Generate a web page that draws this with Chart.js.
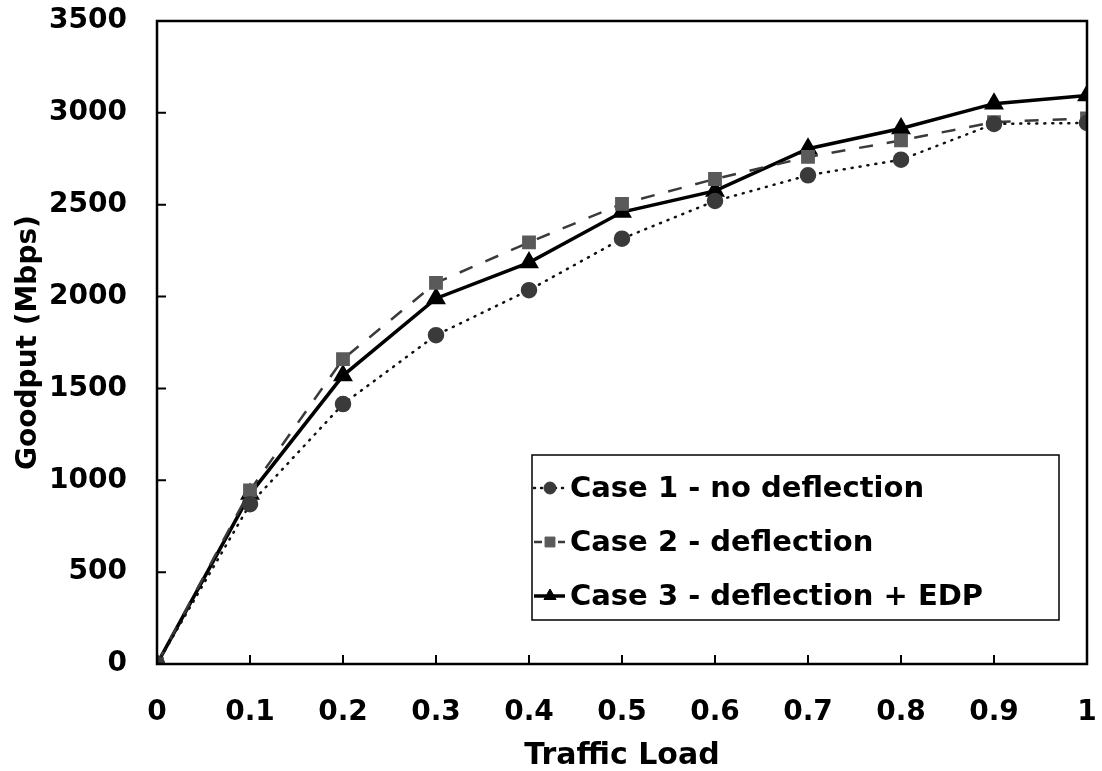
<!DOCTYPE html>
<html>
<head>
<meta charset="utf-8">
<script src="https://cdn.jsdelivr.net/npm/chart.js@4/dist/chart.umd.min.js"></script>
<style>
  html, body { margin: 0; padding: 0; background: #fff; }
  #wrap { width: 1102px; height: 771px; }
</style>
</head>
<body>
<div id="wrap"><canvas id="goodput_grafica"></canvas></div>
<script>
const cargas = [0, 0.1, 0.2, 0.3, 0.4, 0.5, 0.6, 0.7, 0.8, 0.9, 1];
const etiquetas_x = ['0', '0.1', '0.2', '0.3', '0.4', '0.5', '0.6', '0.7', '0.8', '0.9', '1'];
const caso1 = [0, 870, 1415, 1790, 2035, 2315, 2520, 2660, 2745, 2940, 2945];
const caso2 = [0, 945, 1660, 2075, 2295, 2505, 2640, 2760, 2850, 2950, 2970];
const caso3 = [0, 925, 1570, 1990, 2185, 2460, 2575, 2805, 2915, 3050, 3095];
const nombres = ['Case 1 - no deflection', 'Case 2 - deflection', 'Case 3 - deflection + EDP'];

const fuente = 'DejaVu Sans';

// ticks hacia adentro, marco completo y leyenda en caja
const marco = {
  id: 'marco',
  afterDraw(chart) {
    const { ctx, chartArea: a, scales } = chart;
    ctx.save();
    ctx.strokeStyle = '#000';
    ctx.lineWidth = 2.5;
    ctx.strokeRect(a.left, a.top, a.right - a.left, a.bottom - a.top);
    ctx.lineWidth = 2;
    ctx.beginPath();
    scales.x.ticks.forEach(t => {
      const px = scales.x.getPixelForValue(t.value);
      ctx.moveTo(px, a.bottom); ctx.lineTo(px, a.bottom - 9);
    });
    scales.y.ticks.forEach(t => {
      const py = scales.y.getPixelForValue(t.value);
      ctx.moveTo(a.left, py); ctx.lineTo(a.left + 9, py);
    });
    ctx.stroke();

    // leyenda
    const lx = a.left + 375, ly = a.top + 434, lw = 527, lh = 165;
    ctx.fillStyle = '#fff';
    ctx.fillRect(lx, ly, lw, lh);
    ctx.lineWidth = 1.5;
    ctx.strokeRect(lx, ly, lw, lh);
    ctx.font = 'bold 29px ' + fuente;
    ctx.textBaseline = 'middle';
    chart.data.datasets.forEach((ds, i) => {
      const y = ly + 33 + i * 54;
      ctx.save();
      ctx.strokeStyle = ds.borderColor;
      ctx.lineWidth = ds.borderWidth;
      ctx.lineCap = ds.borderCapStyle || 'butt';
      ctx.setLineDash(ds.legendDash || ds.borderDash || []);
      ctx.beginPath();
      ctx.moveTo(lx + 2, y); ctx.lineTo(lx + 33, y);
      ctx.stroke();
      ctx.restore();
      ctx.fillStyle = ds.pointBackgroundColor;
      ctx.strokeStyle = ds.pointBorderColor;
      ctx.lineWidth = 1;
      Chart.helpers.drawPoint(ctx, {
        pointStyle: ds.pointStyle, radius: ds.pointRadius - 1, borderWidth: 1
      }, lx + 18, y);
      ctx.fillStyle = '#000';
      ctx.fillText(ds.label, lx + 38, y + 1);
    });
    ctx.restore();
  }
};

const ctx1 = document.getElementById('goodput_grafica').getContext('2d');

new Chart(ctx1, {
  type: 'line',
  data: {
    datasets: [
      {
        label: nombres[0],
        data: cargas.map((c, i) => ({ x: c, y: caso1[i] })),
        borderColor: '#111',
        borderWidth: 2.5,
        borderDash: [1, 7],
        legendDash: [1, 6],
        borderCapStyle: 'round',
        pointStyle: 'circle',
        pointRadius: 7,
        pointBackgroundColor: '#3a3a3a',
        pointBorderColor: '#3a3a3a',
      },
      {
        label: nombres[1],
        data: cargas.map((c, i) => ({ x: c, y: caso2[i] })),
        borderColor: '#3a3a3a',
        borderWidth: 2.5,
        borderDash: [14, 14],
        legendDash: [8, 4],
        pointStyle: 'rect',
        pointRadius: 8,
        pointBackgroundColor: '#5a5a5a',
        pointBorderColor: '#5a5a5a',
      },
      {
        label: nombres[2],
        data: cargas.map((c, i) => ({ x: c, y: caso3[i] })),
        borderColor: '#000',
        borderWidth: 3.5,
        pointStyle: 'triangle',
        pointRadius: 8,
        pointBackgroundColor: '#000',
        pointBorderColor: '#000',
      }
    ]
  },
  options: {
    responsive: true,
    maintainAspectRatio: false,
    animation: false,
    layout: { padding: { top: 21, right: 15, left: 12, bottom: 0 } },
    plugins: {
      legend: { display: false },
      tooltip: { enabled: false }
    },
    scales: {
      x: {
        type: 'linear',
        min: 0,
        max: 1,
        afterBuildTicks: (s) => { s.ticks = cargas.map(v => ({ value: v })); },
        afterFit: (s) => { s.height = 107; s.paddingLeft = 0; s.paddingRight = 0; },
        grid: { display: false, drawTicks: false },
        border: { display: false },
        ticks: {
          padding: 32,
          color: '#000',
          font: { family: fuente, size: 28, weight: 'bold' },
          callback: (v, i) => etiquetas_x[i]
        },
        title: {
          display: true,
          text: 'Traffic Load',
          color: '#000',
          padding: { top: 0, bottom: -3 },
          font: { family: fuente, size: 30, weight: 'bold' }
        }
      },
      y: {
        min: 0,
        max: 3500,
        afterFit: (s) => { s.width = 145; s.paddingTop = 0; s.paddingBottom = 0; },
        grid: { display: false, drawTicks: false },
        border: { display: false },
        ticks: {
          stepSize: 500,
          padding: 30,
          color: '#000',
          font: { family: fuente, size: 28, weight: 'bold' },
          callback: (v) => String(v)
        },
        title: {
          display: true,
          text: 'Goodput (Mbps)',
          color: '#000',
          padding: { top: 0, bottom: 0 },
          font: { family: fuente, size: 28, weight: 'bold' }
        }
      }
    }
  },
  plugins: [marco]
});
</script>
</body>
</html>
